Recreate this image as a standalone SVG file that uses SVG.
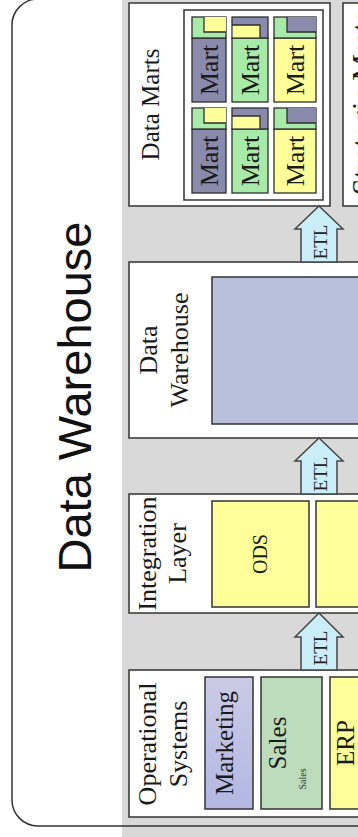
<svg xmlns="http://www.w3.org/2000/svg" width="358" height="837" viewBox="0 0 358 837">
<defs>
<linearGradient id="mkt" x1="0" y1="0" x2="1" y2="0">
<stop offset="0" stop-color="#b2b8e2"/>
<stop offset="1" stop-color="#cbcbe6"/>
</linearGradient>
<style>
.box{fill:#ffffff;stroke:#333333;stroke-width:1.5}
.in{stroke:#333333;stroke-width:1.5}
.cell{stroke:#2e2e2e;stroke-width:1.3}
.ln{fill:none;stroke:#2e2e2e;stroke-width:1.3}
.hd{font-family:"Liberation Serif","Times New Roman",serif;font-size:26px;fill:#1a1a1a;text-anchor:middle}
.lbl{font-family:"Liberation Serif","Times New Roman",serif;font-size:25px;fill:#1a1a1a;text-anchor:middle}
.mart{font-family:"Liberation Serif","Times New Roman",serif;font-size:26px;fill:#1a1a1a;text-anchor:middle}
.etl{font-family:"Liberation Serif","Times New Roman",serif;font-size:19px;fill:#222222;text-anchor:middle}
.arrow{fill:#c9eef8;stroke:#444444;stroke-width:1.5}
.blue{fill:#8a8aac}
.green{fill:#a8eaa8}
.yellow{fill:#ffff99}
</style>
</defs>
<rect x="0" y="0" width="358" height="837" fill="#ffffff"/>
<g transform="translate(0,837) rotate(-90)">
<rect x="0" y="122" width="837" height="236" fill="#d9d9d9"/>
<rect x="11" y="12" width="827" height="420" rx="26" ry="26" fill="none" stroke="#333333" stroke-width="1.5"/>
<g id="title">
<text x="440" y="91" font-family="'Liberation Sans',Arial,sans-serif" font-size="47" fill="#111111" text-anchor="middle">Data Warehouse</text>
</g>

<g id="operational-systems">
<rect class="box" x="20" y="129" width="147" height="250"/>
<text class="hd" x="93" y="156">Operational</text>
<text class="hd" x="93" y="187">Systems</text>
<g id="marketing">
<rect class="in" x="28" y="205" width="132" height="48" fill="url(#mkt)"/>
<text class="lbl" x="94" y="233">Marketing</text>
</g>
<g id="sales">
<rect class="in" x="28" y="261" width="132" height="61" fill="#bcdcbc"/>
<text class="lbl" x="94" y="286">Sales</text>
<text x="58" y="306" font-family="'Liberation Serif','Times New Roman',serif" font-size="10" fill="#333333" text-anchor="middle">Sales</text>
</g>
<g id="erp">
<rect class="in yellow" x="28" y="330" width="132" height="50"/>
<text class="lbl" x="94" y="354">ERP</text>
</g>
</g>

<g id="integration-layer">
<rect class="box" x="224" y="129" width="119" height="250"/>
<text class="hd" x="283.5" y="156">Integration</text>
<text class="hd" x="283.5" y="186">Layer</text>
<g id="ods">
<rect class="in yellow" x="230" y="212" width="106" height="97"/>
<text x="283" y="267" font-family="'Liberation Serif','Times New Roman',serif" font-size="20" fill="#1a1a1a" text-anchor="middle">ODS</text>
</g>
<rect class="in yellow" x="230" y="316" width="106" height="64"/>
</g>

<g id="data-warehouse">
<rect class="box" x="399" y="129" width="176" height="250"/>
<text class="hd" x="487" y="157">Data</text>
<text class="hd" x="487" y="188">Warehouse</text>
<rect class="in" x="413" y="212" width="147" height="170" fill="#b8c0dc"/>
</g>

<g id="data-marts">
<rect class="box" x="631" y="129" width="203" height="201"/>
<text class="lbl" x="732.5" y="159">Data Marts</text>
<rect class="box" x="637" y="184" width="190" height="139"/>
<rect class="cell blue" x="735" y="192" width="64" height="34"/>
<rect class="cell green" x="799" y="192" width="21" height="34"/>
<rect class="yellow" x="805" y="204" width="15" height="22"/>
<path class="ln" d="M805,226 V204 H820"/>
<text class="mart" x="767" y="218">Mart</text>
<rect class="cell green" x="735" y="232" width="64" height="36"/>
<rect class="cell blue" x="799" y="232" width="21" height="36"/>
<rect class="yellow" x="799.7" y="232.7" width="12.3" height="27.3"/>
<path class="ln" d="M799,260 H812 V232"/>
<text class="mart" x="767" y="259">Mart</text>
<rect class="cell yellow" x="735" y="274" width="64" height="42"/>
<rect class="cell green" x="799" y="274" width="21" height="42"/>
<rect class="blue" x="805" y="287" width="15" height="29"/>
<path class="ln" d="M805,316 V287 H820"/>
<text class="mart" x="767" y="304">Mart</text>
<rect class="cell blue" x="644" y="192" width="64" height="34"/>
<rect class="cell green" x="708" y="192" width="21" height="34"/>
<rect class="yellow" x="714" y="204" width="15" height="22"/>
<path class="ln" d="M714,226 V204 H729"/>
<text class="mart" x="676" y="218">Mart</text>
<rect class="cell green" x="644" y="232" width="64" height="36"/>
<rect class="cell blue" x="708" y="232" width="21" height="36"/>
<rect class="yellow" x="708.7" y="232.7" width="12.3" height="27.3"/>
<path class="ln" d="M708,260 H721 V232"/>
<text class="mart" x="676" y="259">Mart</text>
<rect class="cell yellow" x="644" y="274" width="64" height="42"/>
<rect class="cell green" x="708" y="274" width="21" height="42"/>
<rect class="blue" x="714" y="287" width="15" height="29"/>
<path class="ln" d="M714,316 V287 H729"/>
<text class="mart" x="676" y="304">Mart</text>
</g>

<g id="strategic-marts">
<rect class="box" x="631" y="343" width="203" height="60"/>
<text x="642" y="372" font-family="'Liberation Serif','Times New Roman',serif" font-size="30" fill="#1a1a1a">Strategic Marts</text>
</g>

<g id="connectors">
<path class="arrow" d="M167,301 H200 V295 L224,319 L200,343 V337 H167 Z"/>
<text class="etl" x="189" y="327">ETL</text>
<path class="arrow" d="M343,301 H376 V295 L399,319 L376,343 V337 H343 Z"/>
<text class="etl" x="363" y="327">ETL</text>
<path class="arrow" d="M575,301 H608 V295 L631,319 L608,343 V337 H575 Z"/>
<text class="etl" x="595" y="327">ETL</text>
</g>
</g>
</svg>
